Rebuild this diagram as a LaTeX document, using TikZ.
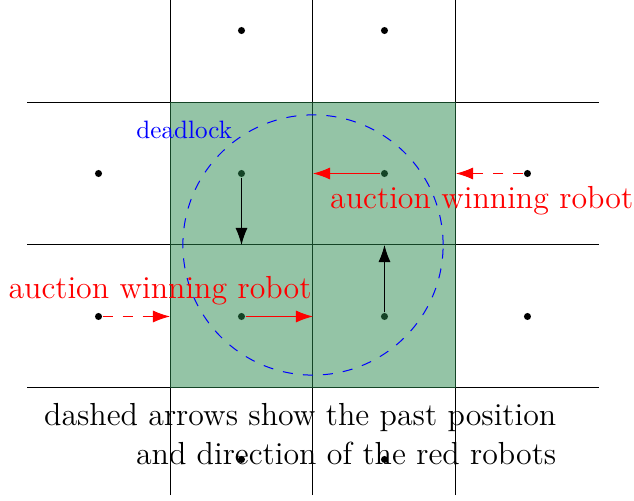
\documentclass[tikz,border=0pt]{standalone}
\usetikzlibrary{arrows.meta}
\definecolor{cellgreen}{RGB}{41,137,77}
\begin{document}
\begin{tikzpicture}[
  robot/.style={circle, fill=black, inner sep=0pt, minimum size=2.8pt},
  gridline/.style={line width=0.4pt, black},
  move/.style={-{Latex[length=6.8pt,width=4.8pt]}, line width=0.4pt},
  pastmove/.style={move, red, dashed, dash pattern=on 4pt off 4pt},
  redlbl/.style={text=red, font=\fontsize{12.7}{15.5}\selectfont, inner sep=0pt},
  notelbl/.style={font=\fontsize{12.7}{15.5}\selectfont, align=right, inner sep=0pt}
]
\useasboundingbox (-4.378,-3.580) rectangle (4.490,3.427);
% grid
\foreach \x in {-2,0,2} \draw[gridline] (\x,-3.5) -- (\x,3.5);
\foreach \y in {-2,0,2} \draw[gridline] (-4,\y) -- (4,\y);
% robots
\node[robot] (t1) at (-1,3) {};
\node[robot] (t2) at (1,3) {};
\node[robot] (l1) at (-3,1) {};
\node[robot] (a) at (-1,1) {};
\node[robot] (b) at (1,1) {};
\node[robot] (r1) at (3,1) {};
\node[robot] (l2) at (-3,-1) {};
\node[robot] (c) at (-1,-1) {};
\node[robot] (d) at (1,-1) {};
\node[robot] (r2) at (3,-1) {};
\node[robot] (b1) at (-1,-3) {};
\node[robot] (b2) at (1,-3) {};
% deadlock region
\fill[cellgreen, fill opacity=0.5] (-2,-2) rectangle (2,2);
\draw[blue, dashed, line width=0.4pt, dash pattern=on 4pt off 4pt] (0,0) circle (1.82);
\node[text=blue, inner sep=0pt] (dl) at (-1.80,1.61) {deadlock};
% target points
\coordinate (ea) at (-1,0);
\coordinate (ed) at (1,0);
\coordinate (eb) at (0,1);
\coordinate (ec) at (0,-1);
\coordinate (er) at (2,1);
\coordinate (el) at (-2,-1);
% moves
\draw[move, black] (a) -- (ea);
\draw[move, black] (d) -- (ed);
\draw[move, red] (b) -- (eb);
\draw[move, red] (c) -- (ec);
\draw[pastmove] (r1) -- (er);
\draw[pastmove] (l2) -- (el);
% labels
\node[redlbl] (w1) at (2.36,0.615) {auction winning robot};
\node[redlbl] (w2) at (-2.14,-0.64) {auction winning robot};
\node[notelbl, anchor=east] (note) at (3.41,-2.65) {dashed arrows show the past position\\and direction of the red robots};
\end{tikzpicture}
\end{document}
